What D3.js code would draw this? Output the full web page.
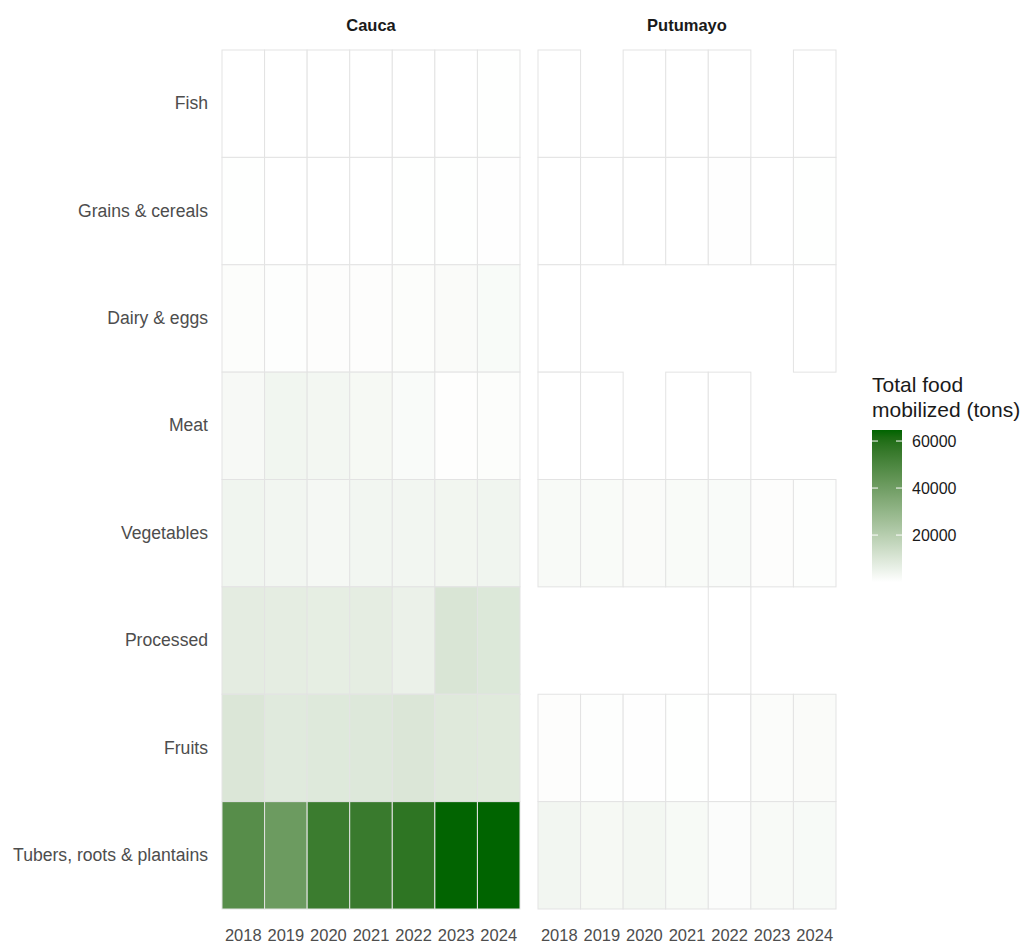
<!DOCTYPE html>
<html>
<head>
<meta charset="utf-8">
<script src="https://cdn.jsdelivr.net/npm/d3@7"></script>
<style>
  html, body { margin: 0; padding: 0; background: #ffffff; }
  svg { display: block; font-family: "Liberation Sans", Arial, sans-serif; }
</style>
</head>
<body>
<svg id="chart" width="1023" height="944"></svg>
<script>
// Years on the x axis
const years = ["2018", "2019", "2020", "2021", "2022", "2023", "2024"];
// Food groups, top to bottom
const categories = ["Fish", "Grains & cereals", "Dairy & eggs", "Meat", "Vegetables",
                    "Processed", "Fruits", "Tubers, roots & plantains"];
const departments = ["Cauca", "Putumayo"];

// Tons mobilized per food group and year (null = no record)
const caucaFish       = [150, 100, 120, 100, 150, 120, 200];
const caucaGrains     = [200, 150, 150, 150, 200, 200, 250];
const caucaDairy      = [900, 600, 700, 700, 900, 1500, 1800];
const caucaMeat       = [2300, 3800, 3200, 2600, 1600, 400, 900];
const caucaVegetables = [4000, 3500, 2800, 3500, 3500, 3700, 4000];
const caucaProcessed  = [7500, 7200, 6800, 7200, 5500, 10500, 9500];
const caucaFruits     = [10000, 8500, 9000, 9200, 10000, 8800, 8600];
const caucaTubers     = [47000, 41000, 54500, 55000, 57500, 64500, 64700];

const putumayoFish       = [50, null, 50, 50, 50, null, 50];
const putumayoGrains     = [100, 100, 100, 100, 300, 100, 200];
const putumayoDairy      = [30, null, null, null, null, null, 60];
const putumayoMeat       = [60, 60, null, 60, 60, null, null];
const putumayoVegetables = [2000, 1700, 1500, 1700, 1600, 700, 600];
const putumayoProcessed  = [null, null, null, null, 50, null, null];
const putumayoFruits     = [700, 600, 300, 200, 150, 1200, 1500];
const putumayoTubers     = [3500, 2600, 3300, 2200, 1100, 1900, 2100];

const legendTicks = [20000, 40000, 60000];

const series = {
  "Cauca": [caucaFish, caucaGrains, caucaDairy, caucaMeat, caucaVegetables,
            caucaProcessed, caucaFruits, caucaTubers],
  "Putumayo": [putumayoFish, putumayoGrains, putumayoDairy, putumayoMeat, putumayoVegetables,
               putumayoProcessed, putumayoFruits, putumayoTubers]
};

// Long-format records for the tiles
const records = [];
departments.forEach(dep => {
  series[dep].forEach((vals, ci) => {
    vals.forEach((v, yi) => {
      if (v !== null) records.push({ dep, cat: categories[ci], year: years[yi], value: v });
    });
  });
});

const svg = d3.select("#chart");

const panelTop = 50, panelBottom = 909;
const panels = { "Cauca": [222, 520], "Putumayo": [538, 836] };

const y = d3.scaleBand().domain(categories).range([panelTop, panelBottom]).padding(0);
const extent = d3.extent(records, d => d.value);
const color = d3.scaleLinear().domain(extent).range(["#ffffff", "#006400"])
  .interpolate(d3.interpolateLab);

departments.forEach(dep => {
  const [x0, x1] = panels[dep];
  const x = d3.scaleBand().domain(years).range([x0, x1]).padding(0);
  const g = svg.append("g");

  g.selectAll("rect")
    .data(records.filter(d => d.dep === dep))
    .join("rect")
    .attr("x", d => x(d.year))
    .attr("y", d => y(d.cat))
    .attr("width", x.bandwidth())
    .attr("height", y.bandwidth())
    .attr("fill", d => color(d.value))
    .attr("stroke", "#e3e3e3")
    .attr("stroke-width", 1);

  // Facet strip label
  svg.append("text")
    .attr("x", (x0 + x1) / 2)
    .attr("y", 25)
    .attr("text-anchor", "middle")
    .attr("dominant-baseline", "central")
    .attr("font-size", 16.5)
    .attr("font-weight", "bold")
    .attr("fill", "#1a1a1a")
    .text(dep);

  // Bottom axis
  const ax = svg.append("g")
    .attr("transform", `translate(0,${panelBottom})`)
    .call(d3.axisBottom(x).tickSize(0).tickPadding(20));
  ax.select(".domain").remove();
  ax.selectAll("text")
    .attr("font-size", 16.5)
    .attr("fill", "#4d4d4d")
    .attr("font-family", "Liberation Sans, Arial, sans-serif");
});

// Left axis
const ay = svg.append("g")
  .attr("transform", `translate(${panels["Cauca"][0]},0)`)
  .call(d3.axisLeft(y).tickSize(0).tickPadding(14));
ay.select(".domain").remove();
ay.selectAll("text")
  .attr("font-size", 17.6)
  .attr("fill", "#4d4d4d")
  .attr("font-family", "Liberation Sans, Arial, sans-serif");

// Colour bar legend
const lgX = 872, lgW = 30, lgTop = 430, lgBottom = 582;
const defs = svg.append("defs");
const grad = defs.append("linearGradient")
  .attr("id", "fillGrad")
  .attr("x1", "0").attr("y1", "1").attr("x2", "0").attr("y2", "0");
d3.range(0, 1.0001, 0.05).forEach(t => {
  grad.append("stop")
    .attr("offset", t)
    .attr("stop-color", color(extent[0] + t * (extent[1] - extent[0])));
});

const title = svg.append("text")
  .attr("x", lgX)
  .attr("font-size", 21)
  .attr("fill", "#1a1a1a");
title.append("tspan").attr("x", lgX).attr("y", 392).text("Total food");
title.append("tspan").attr("x", lgX).attr("y", 417).text("mobilized (tons)");

svg.append("rect")
  .attr("x", lgX).attr("y", lgTop)
  .attr("width", lgW).attr("height", lgBottom - lgTop)
  .attr("fill", "url(#fillGrad)");

const ly = d3.scaleLinear().domain(extent).range([lgBottom, lgTop]);
const lt = svg.append("g");
legendTicks.forEach(v => {
  const yy = ly(v);
  lt.append("line").attr("x1", lgX).attr("x2", lgX + 6).attr("y1", yy).attr("y2", yy)
    .attr("stroke", "#ffffff").attr("stroke-width", 1);
  lt.append("line").attr("x1", lgX + lgW - 6).attr("x2", lgX + lgW).attr("y1", yy).attr("y2", yy)
    .attr("stroke", "#ffffff").attr("stroke-width", 1);
  lt.append("text")
    .attr("x", lgX + lgW + 10)
    .attr("y", yy)
    .attr("dominant-baseline", "central")
    .attr("font-size", 16)
    .attr("fill", "#1a1a1a")
    .text(v);
});
</script>
</body>
</html>
